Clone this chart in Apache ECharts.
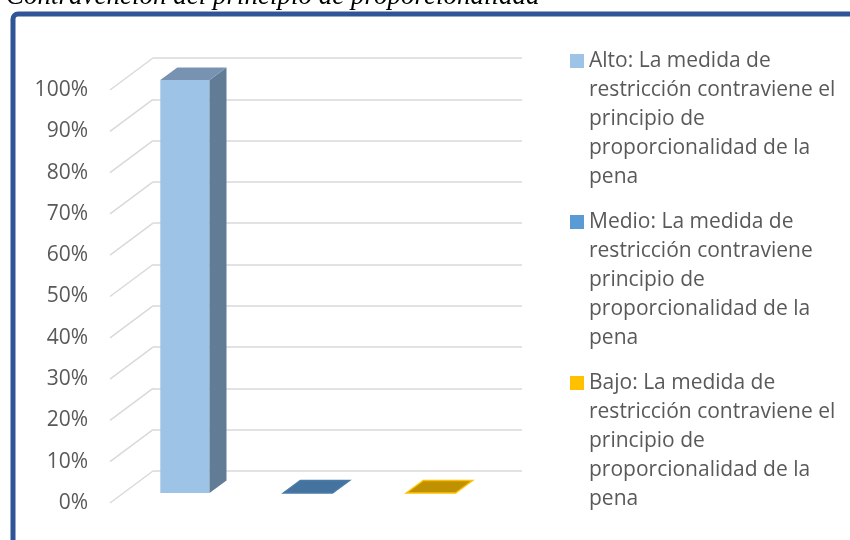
<!DOCTYPE html>
<html>
<head>
<meta charset="utf-8">
<script src="https://cdn.jsdelivr.net/npm/echarts@6/dist/echarts.min.js"></script>
<style>
  html, body { margin: 0; padding: 0; background: #fff; }
  #main { width: 850px; height: 540px; }
</style>
</head>
<body>
<div id="main"></div>
<script>
// datos del gráfico
var titulo = 'Contravención del principio de proporcionalidad';
var categorias = ['Alto', 'Medio', 'Bajo'];
var valores = [1, 0, 0];
var lineasLeyenda = [
  ['Alto: La medida de', 'restricción contraviene el', 'principio de', 'proporcionalidad de la', 'pena'],
  ['Medio: La medida de', 'restricción contraviene', 'principio de', 'proporcionalidad de la', 'pena'],
  ['Bajo: La medida de', 'restricción contraviene el', 'principio de', 'proporcionalidad de la', 'pena']
];
var marcas = [0, 0.1, 0.2, 0.3, 0.4, 0.5, 0.6, 0.7, 0.8, 0.9, 1];

var leyenda = lineasLeyenda.map(function (l) { return l.join(' '); });

// colores de cada nivel: frente, lado, tapa y borde de la tapa
var colores = [
  { base: '#9DC3E6', frente: '#9DC3E6', lado: '#637C96', tapa: '#7893B2', borde: null },
  { base: '#5B9BD5', frente: '#5B9BD5', lado: '#41719C', tapa: '#44739F', borde: '#4A7BA8' },
  { base: '#FFC000', frente: '#FFC000', lado: '#BF9000', tapa: '#BF9000', borde: '#FFC000' }
];

var content = document.getElementById('main');
var myChart = echarts.init(content);

// barra con efecto 3D (frente, lado y tapa)
function caja(estilo) {
  return function (params, api) {
    var cat = api.value(0), val = api.value(1);
    var base = api.coord([cat, 0]);
    var tope = api.coord([cat, val]);
    var w = api.size([1, 0])[0] * 0.4;
    var x0 = base[0] - w / 2, x1 = base[0] + w / 2;
    var dx = 17, dy = -12.5;
    var hijos = [];
    if (base[1] - tope[1] > 0.5) {
      hijos.push({
        type: 'rect',
        shape: { x: x0, y: tope[1], width: w, height: base[1] - tope[1] },
        style: { fill: estilo.frente }
      });
      hijos.push({
        type: 'polygon',
        shape: { points: [[x1, base[1]], [x1 + dx, base[1] + dy], [x1 + dx, tope[1] + dy], [x1, tope[1]]] },
        style: { fill: estilo.lado }
      });
    }
    hijos.push({
      type: 'polygon',
      shape: { points: [[x0, tope[1]], [x0 + dx, tope[1] + dy], [x1 + dx, tope[1] + dy], [x1, tope[1]]] },
      style: { fill: estilo.tapa, stroke: estilo.borde, lineWidth: estilo.borde ? 1.5 : 0 }
    });
    return { type: 'group', children: hijos };
  };
}

var series = categorias.map(function (c, i) {
  return {
    type: 'custom',
    name: leyenda[i],
    xAxisIndex: 0,
    yAxisIndex: 0,
    itemStyle: { color: colores[i].base },
    encode: { x: 0, y: 1 },
    data: [[i, valores[i]]],
    renderItem: caja(colores[i])
  };
});

// lineas diagonales de la pared lateral
series.push({
  type: 'custom',
  name: 'pared',
  xAxisIndex: 2,
  yAxisIndex: 2,
  silent: true,
  z: 1,
  encode: { x: 0, y: 1 },
  data: marcas.map(function (m) { return [0, m]; }),
  renderItem: function (params, api) {
    var p = api.coord([0, api.value(1)]);
    return {
      type: 'line',
      shape: { x1: p[0], y1: p[1], x2: p[0] + 43, y2: p[1] - 32 },
      style: { stroke: '#D9D9D9', lineWidth: 1.5 }
    };
  }
});

var fuente = 'Open Sans';

myChart.setOption({
  animation: false,
  title: {
    text: titulo,
    left: 6,
    top: -17,
    padding: 0,
    textStyle: { fontFamily: 'Liberation Serif', fontStyle: 'italic', fontWeight: 'normal', fontSize: 27, color: '#000' }
  },
  graphic: [{
    type: 'rect',
    silent: true,
    z: -10,
    shape: { x: 13, y: 14, width: 900, height: 600, r: 5 },
    style: { fill: 'none', stroke: '#2F5597', lineWidth: 5 }
  }],
  legend: {
    orient: 'vertical',
    left: 570,
    top: 46.5,
    padding: 0,
    itemGap: 16,
    itemWidth: 14,
    itemHeight: 145,
    icon: 'path://M0,0M0,7.5L14,7.5L14,21.5L0,21.5ZM0,145',
    data: leyenda,
    formatter: function (n) { return lineasLeyenda[leyenda.indexOf(n)].join('\n'); },
    itemStyle: { borderWidth: 0 },
    textStyle: { fontFamily: fuente, fontSize: 21, color: '#595959', lineHeight: 29 }
  },
  grid: [
    { left: 123.4, top: 80, width: 369, height: 413, outerBoundsMode: 'none' },
    { left: 153, top: 58, width: 369, height: 413, outerBoundsMode: 'none' },
    { left: 110, top: 90, width: 369, height: 413, outerBoundsMode: 'none' }
  ],
  xAxis: [
    { gridIndex: 0, type: 'category', data: categorias, show: false },
    { gridIndex: 1, type: 'value', min: 0, max: 1, show: false },
    { gridIndex: 2, type: 'value', min: 0, max: 1, show: false }
  ],
  yAxis: [
    { gridIndex: 0, type: 'value', min: 0, max: 1, show: false },
    {
      gridIndex: 1, type: 'value', min: 0, max: 1, interval: 0.1,
      axisLine: { show: false }, axisTick: { show: false }, axisLabel: { show: false },
      splitLine: { lineStyle: { color: '#D9D9D9', width: 1.5 } }
    },
    {
      gridIndex: 2, type: 'value', min: 0, max: 1, interval: 0.1,
      axisLine: { show: false }, axisTick: { show: false }, splitLine: { show: false },
      axisLabel: {
        margin: 22, color: '#595959', fontFamily: fuente, fontSize: 21,
        padding: [5, 0, 0, 0],
        formatter: function (v) { return Math.round(v * 100) + '%'; }
      }
    }
  ],
  series: series
});
</script>
</body>
</html>
